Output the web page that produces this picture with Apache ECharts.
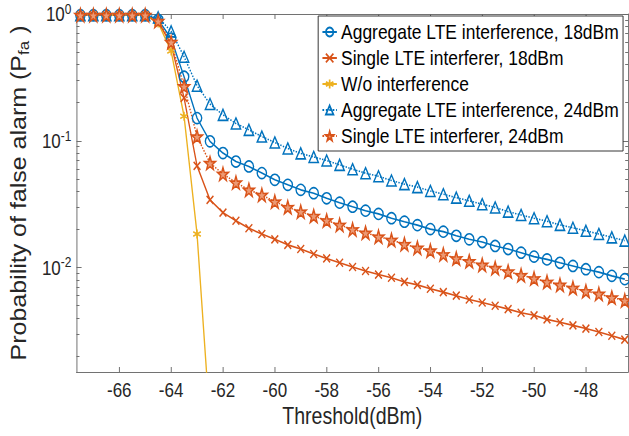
<!DOCTYPE html>
<html>
<head>
<meta charset="utf-8">
<script src="https://cdn.jsdelivr.net/npm/echarts@6/dist/echarts.min.js"></script>
<style>
  html, body { margin: 0; padding: 0; overflow: hidden; background: #fff; }
  /* the figure is horizontally squeezed in the reference, so draw wide and scale */
  #chart { width: 740px; height: 436px; transform: scaleX(0.85); transform-origin: 0 0; }
</style>
</head>
<body>
<div id="chart"></div>
<script>
// threshold values (dBm)
const thresholds = [-67.5, -67, -66.5, -66, -65.5, -65, -64.5, -64, -63.5, -63, -62.5, -62, -61.5, -61, -60.5, -60,
  -59.5, -59, -58.5, -58, -57.5, -57, -56.5, -56, -55.5, -55, -54.5, -54, -53.5, -53, -52.5, -52, -51.5, -51,
  -50.5, -50, -49.5, -49, -48.5, -48, -47.5, -47, -46.5];

const aggregate18 = [0.98, 0.98, 0.98, 0.98, 0.98, 0.98, 0.9, 0.64, 0.32, 0.151, 0.099, 0.080, 0.0686, 0.0627, 0.0556, 0.0492,
  0.0449, 0.0410, 0.0386, 0.0352, 0.0325, 0.0302, 0.0281, 0.0265, 0.0245, 0.0230, 0.0216, 0.0201, 0.0192, 0.0178, 0.0167, 0.0159,
  0.0148, 0.0140, 0.0131, 0.0122, 0.0116, 0.0109, 0.0103, 0.0097, 0.0092, 0.0086, 0.0081];

const single18 = [0.98, 0.98, 0.98, 0.98, 0.98, 0.98, 0.86, 0.58, 0.218, 0.0634, 0.0342, 0.0271, 0.0234, 0.0204, 0.0184, 0.0167,
  0.0151, 0.0140, 0.0128, 0.0118, 0.0109, 0.0101, 0.0094, 0.0088, 0.0083, 0.0077, 0.0073, 0.0068, 0.0064, 0.0060, 0.0056, 0.0053,
  0.0050, 0.0047, 0.0044, 0.0042, 0.0039, 0.0037, 0.0035, 0.0033, 0.0031, 0.0029, 0.0027];

const noInterference = [0.98, 0.98, 0.98, 0.98, 0.98, 0.98, 0.85, 0.51, 0.156, 0.0184, 0.0006, null, null, null, null, null,
  null, null, null, null, null, null, null, null, null, null, null, null, null, null, null, null,
  null, null, null, null, null, null, null, null, null, null, null];

const aggregate24 = [0.98, 0.98, 0.98, 0.98, 0.98, 0.98, 0.94, 0.73, 0.46, 0.272, 0.195, 0.160, 0.137, 0.122, 0.108, 0.097,
  0.087, 0.0795, 0.0745, 0.0699, 0.0646, 0.0597, 0.0555, 0.0525, 0.0486, 0.0455, 0.0431, 0.0402, 0.0379, 0.0356, 0.0336, 0.0316,
  0.0298, 0.0276, 0.0260, 0.0245, 0.0232, 0.0217, 0.0206, 0.0195, 0.0184, 0.0173, 0.0163];

const single24 = [0.98, 0.98, 0.98, 0.98, 0.98, 0.98, 0.88, 0.60, 0.269, 0.108, 0.0667, 0.0548, 0.0468, 0.0410, 0.0374, 0.0331,
  0.0299, 0.0276, 0.0255, 0.0235, 0.0217, 0.0200, 0.0188, 0.0175, 0.0165, 0.0153, 0.0143, 0.0136, 0.0127, 0.0118, 0.0112, 0.0105,
  0.0099, 0.0093, 0.0087, 0.0082, 0.0077, 0.0073, 0.0069, 0.0065, 0.0062, 0.0058, 0.0055];

const seriesNames = ['Aggregate LTE interference, 18dBm', 'Single LTE interferer, 18dBm', 'W/o interference',
  'Aggregate LTE interference, 24dBm', 'Single LTE interferer, 24dBm'];

const xTicks = [-66, -64, -62, -60, -58, -56, -54, -52, -50, -48];
const yMajorTicks = [0.01, 0.1, 1];
const yMinorTicks = [0.002, 0.003, 0.004, 0.005, 0.006, 0.007, 0.008, 0.009,
  0.02, 0.03, 0.04, 0.05, 0.06, 0.07, 0.08, 0.09,
  0.2, 0.3, 0.4, 0.5, 0.6, 0.7, 0.8, 0.9];

const BLUE = '#0072BD', ORANGE = '#D95319', YELLOW = '#EDB120';
const AXIS = '#666666', TEXT = '#262626';
const FONT = '"Liberation Sans", Arial, Helvetica, sans-serif';

const SYM_X = 'path://M0,0L10,10M10,0L0,10';
const SYM_AST = 'path://M5,0L5,10M0.7,2.5L9.3,7.5M0.7,7.5L9.3,2.5';
const SYM_STAR = 'path://M50,0L61.8,35.1L97.6,34.5L69.1,56.7L79.4,90.5L50,70L20.6,90.5L30.9,56.7L2.4,34.5L38.2,35.1Z';

const pairs = (ys) => thresholds.map((x, i) => [x, ys[i]]);

const makeSeries = (name, ys, color, symbol, size, lineType, fill) => ({
  name: name,
  type: 'line',
  data: pairs(ys),
  symbol: symbol,
  symbolSize: size,
  showSymbol: true,
  connectNulls: false,
  clip: true,
  lineStyle: { color: color, width: 1.6, type: lineType },
  itemStyle: { color: fill, borderColor: color, borderWidth: 1.6 },
  emphasis: { disabled: true }
});

const chart = echarts.init(document.getElementById('chart'), null, { renderer: 'svg' });

const yBase = {
  type: 'log',
  logBase: 10,
  min: 0.0015,
  max: 1,
  splitLine: { show: false }
};

const option = {
  animation: false,
  textStyle: { fontFamily: FONT },
  grid: { left: 88, right: 1, top: 14, bottom: 64 },
  legend: {
    orient: 'vertical',
    right: 7,
    top: 16,
    padding: [5, 5, 4, 4],
    itemGap: 4,
    itemWidth: 17,
    itemHeight: 11,
    backgroundColor: '#fff',
    borderColor: '#262626',
    borderWidth: 1,
    borderRadius: 0,
    selectedMode: false,
    textStyle: { fontSize: 20.5, lineHeight: 22, color: '#000', fontFamily: FONT },
    data: seriesNames
  },
  xAxis: [
    {
      type: 'value',
      min: -67.65,
      max: -46.37,
      position: 'bottom',
      name: 'Threshold(dBm)',
      nameLocation: 'middle',
      nameGap: 29,
      nameTextStyle: { fontSize: 23, color: TEXT, fontFamily: FONT },
      axisLine: { show: true, onZero: false, lineStyle: { color: AXIS, width: 1 } },
      axisTick: { show: true, inside: true, length: 5, customValues: xTicks, lineStyle: { color: AXIS } },
      axisLabel: { customValues: xTicks, fontSize: 20, color: TEXT, margin: 8, fontFamily: FONT },
      splitLine: { show: false }
    },
    {
      type: 'value',
      min: -67.65,
      max: -46.37,
      position: 'top',
      axisLine: { show: true, onZero: false, lineStyle: { color: AXIS, width: 1 } },
      axisTick: { show: true, inside: true, length: 5, customValues: xTicks, lineStyle: { color: AXIS } },
      axisLabel: { show: false },
      splitLine: { show: false }
    }
  ],
  yAxis: [
    Object.assign({}, yBase, {
      position: 'left',
      name: 'Probability of false alarm (P{sub|fa} )',
      nameLocation: 'middle',
      nameGap: 55,
      nameRotate: 90,
      nameTextStyle: {
        fontSize: 25, lineHeight: 25, color: TEXT, fontFamily: FONT,
        rich: { sub: { fontSize: 17, color: TEXT, fontFamily: FONT, lineHeight: 17, padding: [12, 0, 0, 0] } }
      },
      axisLine: { show: true, lineStyle: { color: AXIS, width: 1 } },
      axisTick: { show: true, inside: true, length: 6, customValues: yMajorTicks, lineStyle: { color: AXIS } },
      axisLabel: {
        customValues: yMajorTicks,
        margin: 6,
        formatter: (v) => '{b|10}{s|' + Math.round(Math.log10(v)) + '}',
        rich: {
          b: { fontSize: 20, lineHeight: 20, color: TEXT, fontFamily: FONT, verticalAlign: 'bottom' },
          s: { fontSize: 14, lineHeight: 14, color: TEXT, fontFamily: FONT, padding: [0, 0, 10, 0] }
        }
      }
    }),
    Object.assign({}, yBase, {
      position: 'left',
      axisLine: { show: false },
      axisTick: { show: true, inside: true, length: 3.5, customValues: yMinorTicks, lineStyle: { color: AXIS } },
      axisLabel: { show: false }
    }),
    Object.assign({}, yBase, {
      position: 'right',
      axisLine: { show: true, lineStyle: { color: AXIS, width: 1 } },
      axisTick: { show: true, inside: true, length: 6, customValues: yMajorTicks, lineStyle: { color: AXIS } },
      axisLabel: { show: false }
    }),
    Object.assign({}, yBase, {
      position: 'right',
      axisLine: { show: false },
      axisTick: { show: true, inside: true, length: 3.5, customValues: yMinorTicks, lineStyle: { color: AXIS } },
      axisLabel: { show: false }
    })
  ],
  series: [
    makeSeries(seriesNames[0], aggregate18, BLUE, 'circle', 11, 'solid', 'rgba(0,0,0,0)'),
    makeSeries(seriesNames[1], single18, ORANGE, SYM_X, 8, 'solid', 'rgba(0,0,0,0)'),
    makeSeries(seriesNames[2], noInterference, YELLOW, SYM_AST, 9, 'solid', 'rgba(0,0,0,0)'),
    makeSeries(seriesNames[3], aggregate24, BLUE, 'triangle', 11, 'dotted', 'rgba(0,0,0,0)'),
    makeSeries(seriesNames[4], single24, ORANGE, SYM_STAR, 13, 'dotted', '#ec9a74')
  ]
};

chart.setOption(option);
</script>
</body>
</html>
